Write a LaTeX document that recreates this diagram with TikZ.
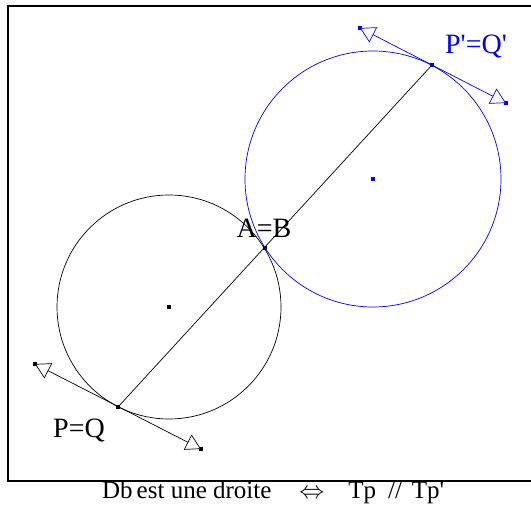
\documentclass[tikz,border=0pt]{standalone}
\usepackage{fontspec}
\setmainfont{Liberation Serif}
\usetikzlibrary{arrows.meta}
\definecolor{geoBlue}{RGB}{0,0,255}

\begin{document}
\begin{tikzpicture}[
    x=1pt, y=-1pt,
    pnt/.style={rectangle, fill, inner sep=0pt, minimum size=3.5pt},
    tangent/.style={line width=0.7pt, {Triangle[open,length=15pt,width=17pt,fill=white]}-{Triangle[open,length=15pt,width=17pt,fill=white]}},
    lbl/.style={font=\fontsize{28}{32}\selectfont, inner sep=0pt, anchor=base},
    >=Latex
]
\useasboundingbox (0,0) rectangle (531,517);
\draw[line width=2pt] (8,6) rectangle (545,481);

% centres and points
\node[pnt] (O1) at (169,307) {};
\node[pnt, geoBlue] (O2) at (373,179) {};
\node[pnt] (P) at (118,407) {};
\node[pnt] (A) at (265,248) {};
\node[pnt, geoBlue] (P2) at (432,65) {};
\node[pnt] (T1) at (35,364) {};
\node[pnt] (T2) at (201,449) {};
\node[pnt, geoBlue] (T3) at (360,28) {};
\node[pnt, geoBlue] (T4) at (506,103) {};

% circles
\draw[line width=0.7pt] (O1.center) circle[radius=112pt];
\draw[line width=0.7pt, geoBlue] (O2.center) circle[radius=128pt];

% line through both points
\draw[line width=0.7pt] (P.center) -- (P2.center);

% tangents
\draw[tangent] (T1.center) -- (T2.center);
\draw[tangent, geoBlue] (T3.center) -- (T4.center);

% labels
\node[lbl] (lP) at (79,437) {P=Q};
\node[lbl] (lA) at (264,237) {A=B};
\node[lbl, text=geoBlue] (lP2) at (476,53) {P\textquotesingle=Q\textquotesingle};
\node[lbl, anchor=base west, font=\fontsize{25}{29}\selectfont] (cap) at (102,498)
    {Db\hspace{4pt}est une droite\hspace{28pt}$\Leftrightarrow$\hspace{24pt}Tp\hspace{12pt}//\hspace{10pt}Tp\textquotesingle};
\end{tikzpicture}
\end{document}
